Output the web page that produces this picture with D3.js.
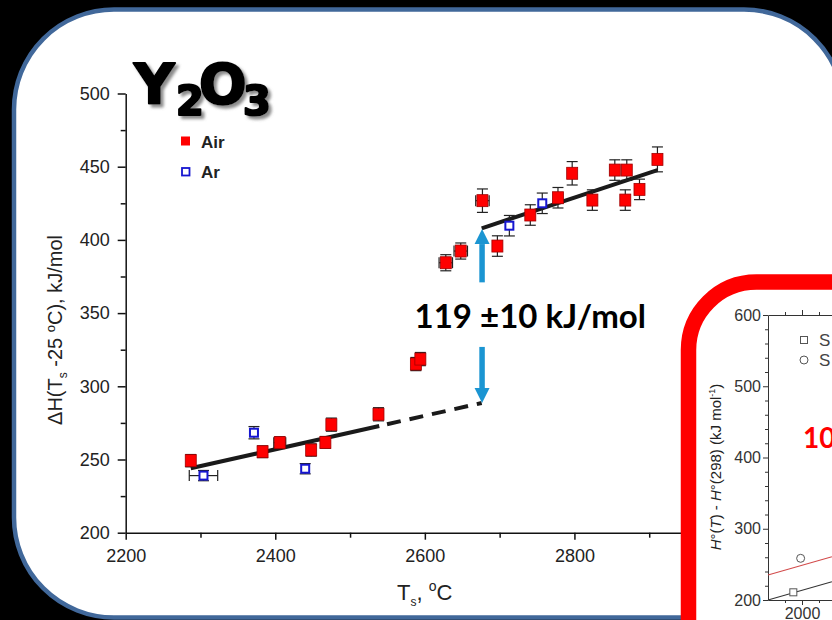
<!DOCTYPE html>
<html>
<head>
<meta charset="utf-8">
<script src="https://cdn.jsdelivr.net/npm/d3@7"></script>
<style>
  html, body { margin: 0; padding: 0; background: #000; overflow: hidden; }
  svg { display: block; }
  .ax text { font-family: "Liberation Sans", Arial, sans-serif; font-size: 18px; fill: #222; }
  .ax path, .ax line { stroke: #111; stroke-width: 1.5; }
  .iax text { font-family: "Liberation Sans", Arial, sans-serif; font-size: 16px; fill: #333; }
  .iax path, .iax line { stroke: #333; stroke-width: 1; }
</style>
</head>
<body>
<script>
// ---------- Main chart data ----------
const airT   = [2287, 2383, 2406, 2448, 2467, 2475, 2538, 2588, 2594, 2628, 2648, 2677, 2697, 2741, 2778, 2797, 2824, 2854, 2868, 2870, 2887, 2911];
const airH   = [249.2, 255.3, 261.5, 256.5, 261.7, 273.8, 280.9, 315.2, 318.6, 384.4, 392.4, 426.8, 395.8, 417.0, 428.8, 445.5, 427.2, 447.7, 427.2, 447.7, 434.5, 455.0];
const airHerr= [4.2, 4.0, 4.0, 4.2, 4.0, 4.5, 4.5, 4.5, 4.5, 5.5, 5.5, 8.0, 7.0, 7.0, 7.0, 8.0, 7.0, 7.0, 7.0, 7.0, 7.0, 8.5];
const airTerr= [5, 0, 8, 0, 0, 0, 0, 0, 0, 9, 9, 9, 0, 0, 0, 0, 0, 6, 0, 6, 0, 0];

const arT    = [2304, 2371.5, 2440, 2713, 2757];
const arH    = [239.0, 268.3, 243.7, 409.7, 425.0];
const arHerr = [3.5, 4.2, 3.5, 7, 7];
const arTerr = [19, 0, 0, 0, 0];

// fitted lines (T, dH)
const lowFit   = [[2287, 244.0], [2539, 272.9]];
const lowDash  = [[2539, 272.9], [2676, 288.6]];
const highFit  = [[2676, 407.9], [2911, 447.7]];

// jump annotation (T, dH)
const arrowT   = 2676.5;
const arrowUp  = [371, 407.4];   // from, to (tip)
const arrowDown= [326.9, 288.6]; // from, to (tip)
const jumpLabel= "119 ±10 kJ/mol";
const jumpPos  = [2741, 339.8];

const xTicksMajor = [2200, 2400, 2600, 2800, 3000];
const xTicksMinor = [2300, 2500, 2700, 2900];
const yTicksMajor = [200, 250, 300, 350, 400, 450, 500];
const yTicksMinor = [225, 275, 325, 375, 425, 475];

// ---------- Inset data ----------
const inSqT = [1949], inSqH = [210.8];
const inCiT = [1992], inCiH = [258.5];
const inRedLine   = [[1800, 235.0], [2176, 260.7]];
const inBlackLine = [[1800, 200.0], [2176, 225.7]];
const inYMajor = [200, 300, 400, 500, 600];
const inYMinor = [220, 240, 260, 280, 320, 340, 360, 380, 420, 440, 460, 480, 520, 540, 560, 580];
const inXMajor = [2000];
const inXMinor = [1900, 2100];

const W = 832, H = 620;
const svg = d3.select("body").append("svg").attr("width", W).attr("height", H);

const defs = svg.append("defs");
const f = defs.append("filter").attr("id", "shadow").attr("x", "-10%").attr("y", "-10%").attr("width", "130%").attr("height", "140%");
f.append("feDropShadow").attr("dx", 3).attr("dy", 3).attr("stdDeviation", 1.8)
  .attr("flood-color", "#777").attr("flood-opacity", 0.85);

// background + main panel
svg.append("rect").attr("width", W).attr("height", H).attr("fill", "#000");
svg.append("rect").attr("x", 14).attr("y", 9.5).attr("width", 830).attr("height", 608)
  .attr("rx", 100).attr("ry", 100).attr("fill", "#fff")
  .attr("stroke", "#41689a").attr("stroke-width", 4.5);

// scales
const x = d3.scaleLinear().domain([2200, 3000]).range([125.7, 724]);
const y = d3.scaleLinear().domain([200, 500]).range([532.7, 93.5]);

// axes
const gx = svg.append("g").attr("class", "ax").attr("transform", `translate(0,${y(200)})`);
gx.call(d3.axisBottom(x).tickValues(xTicksMajor).tickSize(7).tickSizeOuter(0).tickPadding(9.5).tickFormat(d3.format("d")));
svg.append("g").attr("class", "ax").attr("transform", `translate(0,${y(200)})`)
  .call(d3.axisBottom(x).tickValues(xTicksMinor).tickSize(5).tickSizeOuter(0).tickFormat(""))
  .select(".domain").remove();
const gy = svg.append("g").attr("class", "ax").attr("transform", `translate(${x(2200)},0)`);
gy.call(d3.axisLeft(y).tickValues(yTicksMajor).tickSize(8).tickSizeOuter(0).tickPadding(8).tickFormat(d3.format("d")));
svg.append("g").attr("class", "ax").attr("transform", `translate(${x(2200)},0)`)
  .call(d3.axisLeft(y).tickValues(yTicksMinor).tickSize(5).tickSizeOuter(0).tickFormat(""))
  .select(".domain").remove();

// axis titles
const ylab = svg.append("text")
  .attr("transform", "translate(62,330) rotate(-90)")
  .attr("text-anchor", "middle")
  .attr("font-family", "Liberation Sans, Arial, sans-serif").attr("font-size", 20).attr("fill", "#222");
ylab.append("tspan").text("ΔH(T");
ylab.append("tspan").attr("font-size", 12).attr("dy", 5).text("s");
ylab.append("tspan").attr("dy", -5).text(" -25 ");
ylab.append("tspan").attr("font-size", 13).attr("dy", -7).text("o");
ylab.append("tspan").attr("dy", 7).text("C), kJ/mol");

const xlab = svg.append("text").attr("x", 397).attr("y", 600)
  .attr("font-family", "Liberation Sans, Arial, sans-serif").attr("font-size", 22).attr("fill", "#222");
xlab.append("tspan").text("T");
xlab.append("tspan").attr("font-size", 12).attr("dy", 6).text("s");
xlab.append("tspan").attr("dy", -6).text(", ");
xlab.append("tspan").attr("font-size", 14).attr("dy", -9).text("o");
xlab.append("tspan").attr("dy", 9).text("C");

// title Y2O3
const title = svg.append("text").attr("filter", "url(#shadow)")
  .attr("font-family", "DejaVu Sans, Liberation Sans, sans-serif").attr("font-weight", 900)
  .attr("fill", "#000").attr("stroke", "#000").attr("stroke-width", 2.2).attr("stroke-linejoin", "round");
title.append("tspan").attr("x", 134).attr("y", 103).attr("font-size", 56).text("Y");
title.append("tspan").attr("x", 176).attr("y", 115).attr("font-size", 40).text("2");
title.append("tspan").attr("x", 199).attr("y", 103).attr("font-size", 56).text("O");
title.append("tspan").attr("x", 243).attr("y", 115).attr("font-size", 40).text("3");

// legend
svg.append("rect").attr("x", 181).attr("y", 136.5).attr("width", 9).attr("height", 9).attr("fill", "#f00");
svg.append("text").attr("x", 201).attr("y", 148).text("Air")
  .attr("font-family", "Liberation Sans, Arial, sans-serif").attr("font-weight", "bold").attr("font-size", 17).attr("fill", "#222");
svg.append("rect").attr("x", 182).attr("y", 168).attr("width", 7.5).attr("height", 7.5).attr("fill", "#fff")
  .attr("stroke", "#1616d0").attr("stroke-width", 1.8);
svg.append("text").attr("x", 201).attr("y", 178).text("Ar")
  .attr("font-family", "Liberation Sans, Arial, sans-serif").attr("font-weight", "bold").attr("font-size", 17).attr("fill", "#222");

// fit lines
const line = d3.line().x(d => x(d[0])).y(d => y(d[1]));
svg.append("path").attr("d", line(lowFit)).attr("stroke", "#1a1a1a").attr("stroke-width", 4).attr("fill", "none");
svg.append("path").attr("d", line(lowDash)).attr("stroke", "#1a1a1a").attr("stroke-width", 4).attr("fill", "none")
  .attr("stroke-dasharray", "14,9").attr("stroke-dashoffset", -8);
svg.append("path").attr("d", line(highFit)).attr("stroke", "#1a1a1a").attr("stroke-width", 4).attr("fill", "none");

// error bars + markers
const air = airT.map((t, i) => ({t, h: airH[i], he: airHerr[i], te: airTerr[i]}));
const ar  = arT.map((t, i) => ({t, h: arH[i], he: arHerr[i], te: arTerr[i]}));
function errBars(data) {
  const g = svg.append("g").attr("stroke", "#222").attr("stroke-width", 1.2).attr("fill", "none");
  data.forEach(d => {
    const cx = x(d.t), cy = y(d.h), cw = 5.5;
    const y1 = y(d.h + d.he), y2 = y(d.h - d.he);
    g.append("line").attr("x1", cx).attr("x2", cx).attr("y1", y1).attr("y2", y2);
    g.append("line").attr("x1", cx - cw).attr("x2", cx + cw).attr("y1", y1).attr("y2", y1);
    g.append("line").attr("x1", cx - cw).attr("x2", cx + cw).attr("y1", y2).attr("y2", y2);
    if (d.te > 0) {
      const x1 = x(d.t - d.te), x2 = x(d.t + d.te);
      g.append("line").attr("x1", x1).attr("x2", x2).attr("y1", cy).attr("y2", cy);
      g.append("line").attr("x1", x1).attr("x2", x1).attr("y1", cy - cw).attr("y2", cy + cw);
      g.append("line").attr("x1", x2).attr("x2", x2).attr("y1", cy - cw).attr("y2", cy + cw);
    }
  });
}
errBars(air);
errBars(ar);
svg.append("g").selectAll("rect").data(air).join("rect")
  .attr("x", d => x(d.t) - 5.5).attr("y", d => y(d.h) - 6).attr("width", 11).attr("height", 12)
  .attr("fill", "#f00").attr("stroke", "#a00000").attr("stroke-width", 0.8);
svg.append("g").selectAll("rect").data(ar).join("rect")
  .attr("x", d => x(d.t) - 4).attr("y", d => y(d.h) - 4).attr("width", 8).attr("height", 8)
  .attr("fill", "#fff").attr("stroke", "#1616d0").attr("stroke-width", 2);

// arrows
const blue = "#1b95d2";
function arrow(from, to) {
  const ax = x(arrowT), yf = y(from), yt = y(to);
  const dir = yt < yf ? 1 : -1; // 1 = up
  const headLen = 15, headW = 7.5;
  const yb = yt + dir * headLen;
  svg.append("line").attr("x1", ax).attr("x2", ax).attr("y1", yf).attr("y2", yb)
    .attr("stroke", blue).attr("stroke-width", 5.5);
  svg.append("path").attr("d", `M${ax - headW},${yb} L${ax + headW},${yb} L${ax},${yt} Z`).attr("fill", blue);
}
arrow(arrowUp[0], arrowUp[1]);
arrow(arrowDown[0], arrowDown[1]);

svg.append("text").attr("x", x(jumpPos[0])).attr("y", y(jumpPos[1])).attr("text-anchor", "middle")
  .attr("font-family", "Lato, Open Sans, sans-serif").attr("font-weight", "bold").attr("font-size", 33)
  .attr("fill", "#000").text(jumpLabel);

// ---------- Inset ----------
svg.append("rect").attr("x", 688.5).attr("y", 282).attr("width", 320).attr("height", 420)
  .attr("rx", 68).attr("ry", 68).attr("fill", "#fff").attr("stroke", "#ff0000").attr("stroke-width", 15.5);

const ix = d3.scaleLinear().domain([1800, 2200]).range([768, 836]);
const iy = d3.scaleLinear().domain([200, 600]).range([600, 315]);

const iyAxis = svg.append("g").attr("class", "iax").attr("transform", `translate(${ix(1800)},0)`);
iyAxis.call(d3.axisLeft(iy).tickValues(inYMajor).tickSize(5).tickSizeOuter(0).tickPadding(2).tickFormat(d3.format("d")));
svg.append("g").attr("class", "iax").attr("transform", `translate(${ix(1800)},0)`)
  .call(d3.axisLeft(iy).tickValues(inYMinor).tickSize(3).tickSizeOuter(0).tickFormat(""))
  .select(".domain").remove();
const ixAxisB = svg.append("g").attr("class", "iax").attr("transform", `translate(0,${iy(200)})`);
ixAxisB.call(d3.axisBottom(ix).tickValues(inXMajor).tickSize(5).tickSizeOuter(0).tickPadding(3).tickFormat(d3.format("d")));
svg.append("g").attr("class", "iax").attr("transform", `translate(0,${iy(200)})`)
  .call(d3.axisBottom(ix).tickValues(inXMinor).tickSize(3).tickSizeOuter(0).tickFormat(""))
  .select(".domain").remove();
const ixAxisT = svg.append("g").attr("class", "iax").attr("transform", `translate(0,${iy(600)})`);
ixAxisT.call(d3.axisTop(ix).tickValues(inXMajor).tickSize(5).tickSizeOuter(0).tickFormat(""));
svg.append("g").attr("class", "iax").attr("transform", `translate(0,${iy(600)})`)
  .call(d3.axisTop(ix).tickValues(inXMinor).tickSize(3).tickSizeOuter(0).tickFormat(""))
  .select(".domain").remove();

const ilab = svg.append("text").attr("transform", "translate(721,467) rotate(-90)").attr("text-anchor", "middle")
  .attr("font-family", "Liberation Sans, Arial, sans-serif").attr("font-size", 15).attr("fill", "#222");
ilab.append("tspan").attr("font-style", "italic").text("H");
ilab.append("tspan").text("°(");
ilab.append("tspan").attr("font-style", "italic").text("T");
ilab.append("tspan").text(") - ");
ilab.append("tspan").attr("font-style", "italic").text("H");
ilab.append("tspan").text("°(298) (kJ mol");
ilab.append("tspan").attr("font-size", 9).attr("dy", -6).text("-1");
ilab.append("tspan").attr("dy", 6).text(")");

const iline = d3.line().x(d => ix(d[0])).y(d => iy(d[1]));
svg.append("path").attr("d", iline(inRedLine)).attr("stroke", "#d24a4a").attr("stroke-width", 1.1).attr("fill", "none");
svg.append("path").attr("d", iline(inBlackLine)).attr("stroke", "#333").attr("stroke-width", 1.1).attr("fill", "none");
inSqT.forEach((t, i) => svg.append("rect").attr("x", ix(t) - 3.5).attr("y", iy(inSqH[i]) - 3.5)
  .attr("width", 7).attr("height", 7).attr("fill", "#fff").attr("stroke", "#555").attr("stroke-width", 1));
inCiT.forEach((t, i) => svg.append("circle").attr("cx", ix(t)).attr("cy", iy(inCiH[i])).attr("r", 4)
  .attr("fill", "#fff").attr("stroke", "#555").attr("stroke-width", 1));

// inset legend
svg.append("rect").attr("x", 800.5).attr("y", 336.5).attr("width", 7).attr("height", 7).attr("fill", "#fff").attr("stroke", "#555");
svg.append("circle").attr("cx", 804).attr("cy", 360).attr("r", 4).attr("fill", "#fff").attr("stroke", "#555");
svg.append("text").attr("x", 819).attr("y", 346).text("S")
  .attr("font-family", "Liberation Sans, Arial, sans-serif").attr("font-size", 17).attr("fill", "#444");
svg.append("text").attr("x", 819).attr("y", 366).text("S")
  .attr("font-family", "Liberation Sans, Arial, sans-serif").attr("font-size", 17).attr("fill", "#444");

svg.append("text").attr("x", 803).attr("y", 448).text("10")
  .attr("font-family", "Lato, Open Sans, sans-serif").attr("font-weight", "bold").attr("font-size", 28).attr("fill", "#ff0000");
</script>
</body>
</html>
